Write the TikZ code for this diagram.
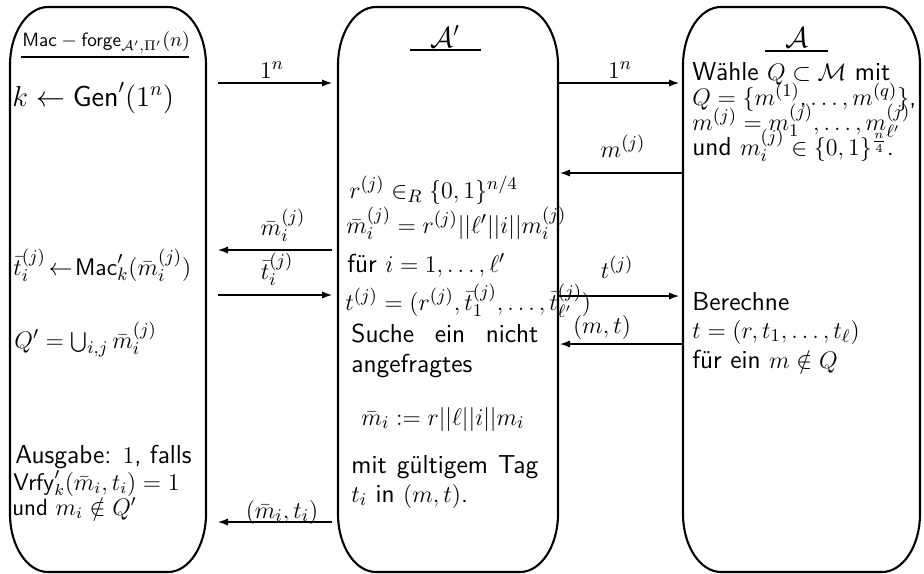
\documentclass[tikz,border=0pt]{standalone}
\usetikzlibrary{arrows.meta}
\newcommand\bodyfont{\sffamily\fontsize{13}{15}\selectfont}
\newcommand\myrbox[6]{%
  \draw[boxline] (#1,#2+#6) .. controls (#1,#2+0.45*#6) and (#1+0.45*#5,#2) .. (#1+#5,#2)
    -- (#3-#5,#2) .. controls (#3-0.45*#5,#2) and (#3,#2+0.45*#6) .. (#3,#2+#6)
    -- (#3,#4-#6) .. controls (#3,#4-0.45*#6) and (#3-0.45*#5,#4) .. (#3-#5,#4)
    -- (#1+#5,#4) .. controls (#1+0.45*#5,#4) and (#1,#4-0.45*#6) .. (#1,#4-#6) -- cycle;}
\tikzset{
  boxline/.style={line width=1.05pt, line join=round},
  rule/.style={line width=1pt},
  msg/.style={line width=0.6pt, -{Latex[length=5pt,width=3.6pt]}},
  txt/.style={anchor=base west, inner sep=0pt, font=\bodyfont},
  lbl/.style={anchor=base, inner sep=0pt, font=\bodyfont},
  small/.style={font=\sffamily\fontsize{11.8}{14}\selectfont},
  ttl/.style={anchor=base, inner sep=0pt, font=\sffamily\fontsize{14}{16}\selectfont},
}
\begin{document}
\begin{tikzpicture}[x=0.5pt, y=-0.5pt]
\useasboundingbox (0,0) rectangle (924,573);
% boxes
\myrbox{10}{7}{206}{572}{38}{58}
\myrbox{338}{7}{558}{572}{38}{58}
\myrbox{683}{7}{920}{572}{38}{58}

% left box
\node[anchor=base west, inner sep=0pt, font=\sffamily\fontsize{9.6}{11}\selectfont] (exp) at (22,46)
  {$\textsf{Mac}-\textsf{forge}_{\mathcal{A}',\Pi'}(n)$};
\draw[rule] (21,57) -- (189,57);
\node[txt, font=\sffamily\fontsize{14}{16}\selectfont] (gen) at (12,106) {$k \leftarrow \mathsf{Gen}'(1^n)$};
\node[txt, font=\sffamily\fontsize{12.4}{14}\selectfont] (mac) at (13,275) {$\bar t_i^{(j)}\!\leftarrow\!\mathsf{Mac}'_k(\bar m_i^{(j)})$};
\node[txt] (qp) at (14,348) {$Q' = \bigcup_{i,j} \bar m_i^{(j)}$};
\node[txt] (out1) at (15,463) {Ausgabe: $1$, falls};
\node[txt, small] (out2) at (13,490) {$\mathsf{Vrfy}'_k(\bar m_i, t_i) = 1$};
\node[txt, small] (out3) at (12,515) {und $m_i \notin Q'$};

% center box
\node[ttl] (cA) at (445,47) {$\mathcal{A}'$};
\draw[rule] (410,50) -- (481,50);
\node[txt] (rj) at (349,198) {$r^{(j)} \in_R \{0,1\}^{n/4}$};
\node[txt] (mbar) at (346,233) {$\bar m_i^{(j)} = r^{(j)}||\ell'||i||m_i^{(j)}$};
\node[txt] (fuer) at (347,272) {für $i = 1,\ldots,\ell'$};
\node[txt] (tj) at (345,310) {$t^{(j)} = (r^{(j)}, \bar t_1^{(j)}, \ldots, \bar t_{\ell'}^{(j)})$};
\node[txt] (such) at (351,342) {\makebox[93.5pt][s]{Suche ein nicht}};
\node[txt] (angef) at (351,372) {angefragtes};
\node[lbl] (mdef) at (443,425) {$\bar m_i := r||\ell||i||m_i$};
\node[txt] (mit) at (351,473) {\makebox[93.5pt][s]{mit gültigem Tag}};
\node[txt] (tin) at (351,502) {$t_i$ in $(m,t)$.};

% right box
\node[ttl] (rA) at (797,47) {$\mathcal{A}$};
\draw[rule] (765,51) -- (828,51);
\node[txt] (w1) at (692,80) {Wähle $Q \subset \mathcal{M}$ mit};
\node[txt, font=\sffamily\fontsize{12.5}{14}\selectfont] (w2) at (692,105) {$Q = \{m^{(1)},\ldots,m^{(q)}\}$,};
\node[txt, font=\sffamily\fontsize{12.6}{14}\selectfont] (w3) at (692,130) {$m^{(j)} = m_1^{(j)},\ldots,m_{\ell'}^{(j)}$};
\node[txt] (w4) at (692,155) {und $m_i^{(j)} \in \{0,1\}^{\frac{n}{4}}$.};
\node[txt] (b1) at (692,310) {Berechne};
\node[txt] (b2) at (692,338) {$t = (r, t_1, \ldots, t_\ell)$};
\node[txt] (b3) at (692,368) {für ein $m \notin Q$};

% connector end points
\coordinate (L1) at (218,83);  \coordinate (C1) at (332,83);
\coordinate (L2) at (218,250); \coordinate (C2) at (332,250);
\coordinate (L3) at (218,295); \coordinate (C3) at (332,295);
\coordinate (L4) at (218,522); \coordinate (C4) at (332,522);
\coordinate (D1) at (558,83);  \coordinate (R1) at (679,83);
\coordinate (D2) at (560,173); \coordinate (R2) at (683,173);
\coordinate (D3) at (558,296); \coordinate (R3) at (679,296);
\coordinate (D4) at (560,344); \coordinate (R4) at (683,344);

% connectors
\draw[msg] (L1) -- (C1);
\draw[msg] (C2) -- (L2);
\draw[msg] (L3) -- (C3);
\draw[msg] (C4) -- (L4);
\draw[msg] (D1) -- (R1);
\draw[msg] (R2) -- (D2);
\draw[msg] (D3) -- (R3);
\draw[msg] (R4) -- (D4);

% labels
\node[lbl] (l1) at (272,78) {$1^n$};
\node[lbl] (l2) at (283,235) {$\bar m_i^{(j)}$};
\node[lbl] (l3) at (277,279) {$\bar t_i^{(j)}$};
\node[lbl] (l4) at (282,518) {$(\bar m_i, t_i)$};
\node[lbl] (r1) at (620,78) {$1^n$};
\node[lbl] (r2) at (623,157) {$m^{(j)}$};
\node[lbl] (r3) at (617,278) {$t^{(j)}$};
\node[lbl] (r4) at (602,333) {$(m,t)$};
\end{tikzpicture}
\end{document}
